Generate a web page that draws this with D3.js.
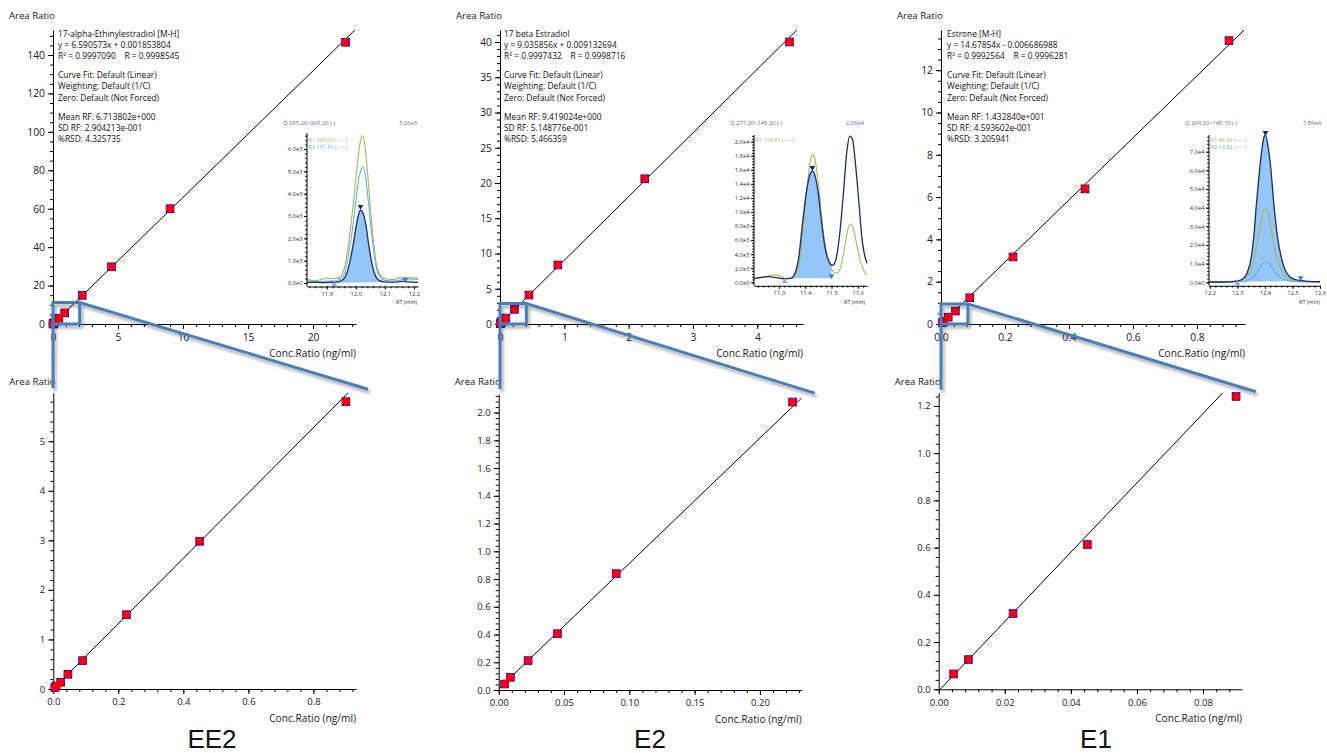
<!DOCTYPE html>
<html><head><meta charset="utf-8">
<script src="https://cdn.jsdelivr.net/npm/d3@7"></script>
<style>
html,body{margin:0;padding:0;background:#fff;}
svg{display:block;}
</style></head><body>
<svg id="chart" width="1327" height="753"></svg>
<script>
// ================= DATA =================
const compounds = ["EE2", "E2", "E1"];

// calibration points (Conc.Ratio ng/ml, Area Ratio)
const ee2Conc = [0.0045, 0.009, 0.0225, 0.045, 0.09, 0.225, 0.45, 0.9, 2.25, 4.5, 9, 22.5];
const ee2Area = [0.03, 0.06, 0.135, 0.297, 0.573, 1.50, 2.98, 5.80, 14.9, 29.8, 60.0, 146.6];
const ee2Fit = [6.590573, 0.001853804];

const e2Conc = [0.0045, 0.009, 0.0225, 0.045, 0.09, 0.225, 0.45, 0.9, 2.25, 4.5];
const e2Area = [0.043, 0.091, 0.212, 0.406, 0.839, 2.076, 4.11, 8.37, 20.6, 40.0];
const e2Fit = [9.035856, 0.009132694];

const e1Conc = [0.0045, 0.009, 0.0225, 0.045, 0.09, 0.225, 0.45, 0.9];
const e1Area = [0.065, 0.126, 0.321, 0.613, 1.24, 3.17, 6.39, 13.4];
const e1Fit = [14.67854, -0.006686988];

const ee2Info = ["17-alpha-Ethinylestradiol [M-H]", "y = 6.590573x + 0.001853804", "R\u00B2 = 0.9997090    R = 0.9998545",
  "Curve Fit: Default (Linear)", "Weighting: Default (1/C)", "Zero: Default (Not Forced)",
  "Mean RF: 6.713802e+000", "SD RF: 2.904213e-001", "%RSD: 4.325735"];
const e2Info = ["17 beta Estradiol", "y = 9.035856x + 0.009132694", "R\u00B2 = 0.9997432    R = 0.9998716",
  "Curve Fit: Default (Linear)", "Weighting: Default (1/C)", "Zero: Default (Not Forced)",
  "Mean RF: 9.419024e+000", "SD RF: 5.148776e-001", "%RSD: 5.466359"];
const e1Info = ["Estrone [M-H]", "y = 14.67854x - 0.006686988", "R\u00B2 = 0.9992564    R = 0.9996281",
  "Curve Fit: Default (Linear)", "Weighting: Default (1/C)", "Zero: Default (Not Forced)",
  "Mean RF: 1.432840e+001", "SD RF: 4.593602e-001", "%RSD: 3.205941"];

// chromatogram insets: [RT min, intensity]
const ee2Quant = [[11.832,30],[11.86,30],[11.88,20],[11.91,30],[11.94,50],[11.96,200],[11.975,700],[11.99,1650],[12.0,2450],[12.008,3000],[12.016,3260],[12.024,3150],[12.034,2650],[12.045,1650],[12.055,900],[12.065,400],[12.08,120],[12.1,50],[12.13,40],[12.16,70],[12.18,50],[12.214,30]];
const ee2R1 = [[11.832,150],[11.86,100],[11.88,150],[11.9,220],[11.92,200],[11.94,220],[11.955,450],[11.97,1300],[11.985,2800],[11.995,4000],[12.005,5300],[12.015,6300],[12.022,6600],[12.03,6300],[12.04,5000],[12.05,3400],[12.06,2000],[12.07,900],[12.085,350],[12.1,200],[12.13,150],[12.15,230],[12.17,250],[12.19,230],[12.214,220]];
const ee2R2 = [[11.832,100],[11.87,60],[11.9,80],[11.93,90],[11.955,250],[11.97,900],[11.985,2100],[11.995,3100],[12.005,4200],[12.015,4950],[12.025,5200],[12.032,4900],[12.042,3800],[12.052,2500],[12.062,1400],[12.072,600],[12.085,250],[12.1,120],[12.13,90],[12.16,150],[12.19,180],[12.214,160]];

const e2Quant = [[11.205,550],[11.23,700],[11.26,800],[11.29,650],[11.32,500],[11.345,550],[11.36,1200],[11.375,3500],[11.39,8500],[11.405,13000],[11.418,15300],[11.427,15800],[11.437,15200],[11.45,12500],[11.462,8500],[11.475,5000],[11.49,3000],[11.503,2400],[11.515,3000],[11.53,6500],[11.545,12500],[11.558,18500],[11.57,20800],[11.58,20300],[11.592,16500],[11.605,11000],[11.615,6500],[11.625,4000],[11.635,2700]];
const e2R1 = [[11.205,500],[11.24,700],[11.27,1000],[11.29,1050],[11.31,800],[11.33,550],[11.35,600],[11.365,1200],[11.38,3500],[11.395,9000],[11.41,14500],[11.42,17500],[11.428,18200],[11.437,17500],[11.45,14000],[11.462,9500],[11.475,5500],[11.49,2800],[11.505,1600],[11.52,1300],[11.535,2200],[11.55,5000],[11.562,7500],[11.572,8300],[11.582,7800],[11.595,5500],[11.61,3000],[11.625,1500],[11.635,1000]];

const e1Quant = [[12.197,200],[12.23,150],[12.26,250],[12.28,400],[12.30,700],[12.32,1800],[12.335,5000],[12.35,13000],[12.36,25000],[12.368,40000],[12.378,56000],[12.388,70000],[12.397,78000],[12.402,78900],[12.41,74000],[12.42,63000],[12.433,41000],[12.445,25000],[12.46,13000],[12.475,6000],[12.49,3000],[12.51,1500],[12.53,900],[12.56,500],[12.6,300]];
const e1R1 = [[12.197,100],[12.26,150],[12.3,400],[12.33,2500],[12.35,6500],[12.36,12500],[12.37,20000],[12.38,28000],[12.39,35000],[12.398,39500],[12.405,39000],[12.412,37500],[12.42,31000],[12.433,20000],[12.445,12500],[12.46,6500],[12.475,3000],[12.5,1200],[12.53,500],[12.6,300]];
const e1R2 = [[12.197,100],[12.3,150],[12.33,700],[12.35,2000],[12.365,4000],[12.38,7500],[12.392,10200],[12.402,11000],[12.412,10400],[12.425,8000],[12.44,5000],[12.455,2800],[12.47,1500],[12.5,500],[12.6,200]];

// peak markers: apex, start, end
const ee2Marks = [[12.016,3420],[11.926,-60],[12.17,150]];
const e2Marks = [[11.427,16300],[11.322,150],[11.5,900]];
const e1Marks = [[12.402,80200],[12.3,-550],[12.53,2400]];
// integration range: start RT, end RT, baseline at start, baseline at end
const ee2Integr = [11.926, 12.17, 0, 60];
const e2Integr = [11.322, 11.5, 570, 570];
const e1Integr = [12.3, 12.53, 300, 600];

const insetHeaders = ["Q 295.20>269.20 (-)", "Q 271.20>145.20 (-)", "Q 269.20>145.10 (-)"];
const insetMaxLabels = ["3.26e3", "2.08e4", "7.89e4"];
const insetLegends = [["R1 195.00 (-----)", "R2 151.91 (-----)"], ["R1 109.81 (-----)"], ["R1 46.20 (-----)", "R2 13.82 (-----)"]];

// zoom annotation: box corner (top chart units), diagonal end & drop (bottom chart units)
const zoomBox = [[2.05, 11.2], [0.41, 2.9], [0.084, 0.95]];
const zoomEnd = [[0.968, 6.05], [0.242, 2.14], [0.096, 1.26]];
const zoomDrop = [6.07, 2.17, 1.268];

// ================= LAYOUT =================
const FONT = '"Open Sans", sans-serif';
const calLayout = [
  { top: {xr:[53,356], yr:[324,30], xd:[0,23.3], yd:[0,153], xs:[5,1], ys:[20,5], xf:'d', yf:'d', fs:10.3, ly:15},
    bot: {xr:[53.3,356], yr:[689,392.7], xd:[0,0.931], yd:[0,5.98], xs:[0.2,0.04], ys:[1,0.2], xf:'.1f', yf:'d', fs:9.5, ly:381},
    infoX: 58, labelX: 212 },
  { top: {xr:[500,803], yr:[324,30], xd:[0,4.71], yd:[0,41.7], xs:[1,0.2], ys:[5,1], xf:'d', yf:'d', fs:10.3, ly:15},
    bot: {xr:[498.7,801.7], yr:[690,394], xd:[0,0.232], yd:[0,2.134], xs:[0.05,0.01], ys:[0.2,0.04], xf:'.2f', yf:'.1f', fs:9.5, ly:381},
    infoX: 504, labelX: 650 },
  { top: {xr:[941,1245], yr:[324,30], xd:[0,0.95], yd:[0,13.9], xs:[0.2,0.04], ys:[2,0.5], xf:'.1f', yf:'d', fs:10.3, ly:15},
    bot: {xr:[938.7,1242], yr:[689.3,392.7], xd:[0,0.0918], yd:[0,1.256], xs:[0.02,0.004], ys:[0.2,0.04], xf:'.2f', yf:'.1f', fs:9.5, ly:381},
    infoX: 947, labelX: 1096 }
];
const infoLineY = [33, 44, 55, 74, 85.5, 97, 116, 127, 138];
const insetLayout = [
  {xr:[307,418], yr:[283,133], xd:[11.832,12.214], yd:[0,6720], yMaj:1000, yMin:200, headX:283, valX:417, rtX:417},
  {xr:[754,867], yr:[282.3,135], xd:[11.205,11.635], yd:[0,20950], yMaj:2000, yMin:400, headX:730, valX:864, rtX:865},
  {xr:[1209,1320], yr:[282.3,135], xd:[12.197,12.6], yd:[0,78940], yMaj:10000, yMin:2000, headX:1185, valX:1321, rtX:1320}
];

const calData = [
  {conc: ee2Conc, area: ee2Area, fit: ee2Fit, info: ee2Info},
  {conc: e2Conc, area: e2Area, fit: e2Fit, info: e2Info},
  {conc: e1Conc, area: e1Area, fit: e1Fit, info: e1Info}
];
const insetData = [
  {quant: ee2Quant, r1: ee2R1, r2: ee2R2, marks: ee2Marks, integr: ee2Integr},
  {quant: e2Quant, r1: e2R1, r2: null, marks: e2Marks, integr: e2Integr},
  {quant: e1Quant, r1: e1R1, r2: e1R2, marks: e1Marks, integr: e1Integr}
];

// ================= DRAW =================
const svg = d3.select('#chart');
const defs = svg.append('defs');
defs.append('filter').attr('id','shadow').attr('x','-20%').attr('y','-20%').attr('width','150%').attr('height','160%')
  .append('feDropShadow').attr('dx',2).attr('dy',3).attr('stdDeviation',1.8)
  .attr('flood-color','#000').attr('flood-opacity',0.32);

function stepTicks(d0, d1, step) {
  const out = [];
  const start = Math.ceil(d0 / step - 1e-6);
  for (let i = start; i * step <= d1 + step * 1e-6; i++) out.push(+(i * step).toFixed(8));
  return out;
}

function drawCal(c, d, id) {
  const x = d3.scaleLinear().domain(c.xd).range(c.xr);
  const y = d3.scaleLinear().domain(c.yd).range(c.yr);
  const g = svg.append('g');

  const gxm = g.append('g').attr('transform', `translate(0,${c.yr[0]})`)
    .call(d3.axisBottom(x).tickValues(stepTicks(c.xd[0], c.xd[1], c.xs[1])).tickSize(3).tickFormat(() => '').tickSizeOuter(0));
  gxm.select('.domain').remove();
  const gym = g.append('g').attr('transform', `translate(${c.xr[0]},0)`)
    .call(d3.axisLeft(y).tickValues(stepTicks(c.yd[0], c.yd[1], c.ys[1])).tickSize(3).tickFormat(() => '').tickSizeOuter(0));
  gym.select('.domain').remove();

  const gx = g.append('g').attr('transform', `translate(0,${c.yr[0]})`)
    .call(d3.axisBottom(x).tickValues(stepTicks(c.xd[0], c.xd[1], c.xs[0])).tickSize(5).tickPadding(4.5)
      .tickFormat(d3.format(c.xf)).tickSizeOuter(0));
  const gy = g.append('g').attr('transform', `translate(${c.xr[0]},0)`)
    .call(d3.axisLeft(y).tickValues(stepTicks(c.yd[0], c.yd[1], c.ys[0])).tickSize(5).tickPadding(3)
      .tickFormat(d3.format(c.yf)).tickSizeOuter(0));
  [gx, gy].forEach(a => a.attr('font-family', FONT).attr('font-size', c.fs));
  g.selectAll('.tick text').attr('fill', '#222');

  g.append('text').attr('x', c.xr[0] - 44).attr('y', c.ly).attr('dominant-baseline', 'central')
    .attr('font-family', FONT).attr('font-size', 9.6).attr('fill', '#222').text('Area Ratio');
  g.append('text').attr('x', c.xr[1]).attr('y', c.yr[0] + 29).attr('dominant-baseline', 'central')
    .attr('text-anchor', 'end').attr('font-family', FONT).attr('font-size', 10.2).attr('fill', '#222')
    .text('Conc.Ratio (ng/ml)');

  defs.append('clipPath').attr('id', 'clip' + id).append('rect')
    .attr('x', c.xr[0]).attr('y', c.yr[1]).attr('width', c.xr[1] - c.xr[0]).attr('height', c.yr[0] - c.yr[1]);
  const fitPts = c.xd.map(v => [v, d.fit[0] * v + d.fit[1]]);
  g.append('path').datum(fitPts).attr('clip-path', `url(#clip${id})`)
    .attr('d', d3.line().x(p => x(p[0])).y(p => y(p[1])))
    .attr('stroke', '#000').attr('stroke-width', 1).attr('fill', 'none');

  const pts = d3.zip(d.conc, d.area).filter(p => p[0] <= c.xd[1] && p[1] <= c.yd[1] * 1.02);
  g.selectAll('rect.pt').data(pts).join('rect').attr('class', 'pt')
    .attr('x', p => x(p[0]) - 4.3).attr('y', p => y(p[1]) - 4.3).attr('width', 8.6).attr('height', 8.6)
    .attr('fill', '#0000ff');
  g.selectAll('circle.pt').data(pts).join('circle').attr('class', 'pt')
    .attr('cx', p => x(p[0])).attr('cy', p => y(p[1])).attr('r', 4.1).attr('fill', '#ff0000');
  return {x, y};
}

function interpAt(trace, t) {
  for (let i = 0; i < trace.length - 1; i++) {
    if (trace[i][0] <= t && t <= trace[i + 1][0]) {
      const f = (t - trace[i][0]) / (trace[i + 1][0] - trace[i][0]);
      return trace[i][1] + f * (trace[i + 1][1] - trace[i][1]);
    }
  }
  return trace[trace.length - 1][1];
}

function expFmt(v) {
  if (v === 0) return '0.0e0';
  const e = Math.floor(Math.log10(v) + 1e-9);
  return (v / Math.pow(10, e)).toFixed(1) + 'e' + e;
}

function drawInset(L, D, i) {
  const x = d3.scaleLinear().domain(L.xd).range(L.xr);
  const y = d3.scaleLinear().domain(L.yd).range(L.yr);
  const g = svg.append('g');
  const axisY = L.yr[0] + 3.5;
  const curve = d3.curveMonotoneX;

  const [s, e, b0, b1] = D.integr;
  const fillPts = [[s, interpAt(D.quant, s)]].concat(D.quant.filter(p => p[0] > s && p[0] < e), [[e, interpAt(D.quant, e)]]);
  g.append('path').datum(fillPts)
    .attr('d', d3.area().curve(curve).x(p => x(p[0])).y1(p => y(p[1]))
      .y0(p => y(b0 + (b1 - b0) * (p[0] - s) / (e - s))))
    .attr('fill', '#94c6f7').attr('stroke', 'none');

  const line = d3.line().curve(curve).x(p => x(p[0])).y(p => y(p[1]));
  if (D.r1) g.append('path').datum(D.r1).attr('d', line).attr('fill', 'none').attr('stroke', '#a9b656').attr('stroke-width', 1.1);
  if (D.r2) g.append('path').datum(D.r2).attr('d', line).attr('fill', 'none').attr('stroke', '#62aef0').attr('stroke-width', 1.1);
  g.append('path').datum(D.quant).attr('d', line).attr('fill', 'none').attr('stroke', '#1c2a6b').attr('stroke-width', 1.3);

  const fs = 5.8;
  const gxm = g.append('g').attr('transform', `translate(0,${axisY})`)
    .call(d3.axisBottom(x).tickValues(stepTicks(L.xd[0], L.xd[1], 0.02)).tickSize(1.8).tickFormat(() => '').tickSizeOuter(0));
  gxm.select('.domain').remove();
  const gx = g.append('g').attr('transform', `translate(0,${axisY})`)
    .call(d3.axisBottom(x).tickValues(stepTicks(L.xd[0], L.xd[1], 0.1)).tickSize(3).tickPadding(2)
      .tickFormat(d3.format('.1f')).tickSizeOuter(0));
  const gym = g.append('g').attr('transform', `translate(${L.xr[0]},0)`)
    .call(d3.axisLeft(y).tickValues(stepTicks(0, L.yd[1], L.yMin)).tickSize(1.8).tickFormat(() => '').tickSizeOuter(0));
  gym.select('.domain').remove();
  const gy = g.append('g').attr('transform', `translate(${L.xr[0]},0)`)
    .call(d3.axisLeft(y).tickValues(stepTicks(0, L.yd[1], L.yMaj)).tickSize(3).tickPadding(1.5)
      .tickFormat(expFmt).tickSizeOuter(0));
  gy.select('.domain').remove();
  g.append('line').attr('x1', L.xr[0]).attr('x2', L.xr[0]).attr('y1', L.yr[1]).attr('y2', axisY)
    .attr('stroke', '#000').attr('stroke-width', 1);
  [gx, gy].forEach(a => a.attr('font-family', FONT).attr('font-size', fs));
  g.selectAll('.tick text').attr('fill', '#333');

  const tri = d3.symbol().type(d3.symbolTriangle).size(14);
  const markCol = ['#1c2a6b', '#8aa6f2', '#4d6fe0'];
  const markRot = [180, 0, 180];
  g.selectAll('path.mk').data(D.marks).join('path').attr('class', 'mk')
    .attr('d', tri).attr('fill', (p, k) => markCol[k])
    .attr('transform', (p, k) => `translate(${x(p[0])},${y(p[1])}) rotate(${markRot[k]})`);

  g.append('text').attr('x', L.headX).attr('y', 123).attr('dominant-baseline', 'central')
    .attr('font-family', FONT).attr('font-size', 5.8).attr('fill', '#5a6a9e').text(insetHeaders[i]);
  g.append('text').attr('x', L.valX).attr('y', 123).attr('dominant-baseline', 'central').attr('text-anchor', 'end')
    .attr('font-family', FONT).attr('font-size', 5.8).attr('fill', '#5a6a9e').text(insetMaxLabels[i]);
  const legCol = ['#a9b656', '#62aef0'];
  insetLegends[i].forEach((t, k) => {
    g.append('text').attr('x', L.xr[0] + 1.5).attr('y', 140 + k * 7).attr('dominant-baseline', 'central')
      .attr('font-family', FONT).attr('font-size', 5.5).attr('fill', legCol[k]).text(t);
  });
  g.append('text').attr('x', L.rtX).attr('y', 302).attr('dominant-baseline', 'central').attr('text-anchor', 'end')
    .attr('font-family', FONT).attr('font-size', 5.5).attr('fill', '#333').text('RT (min)');
}

const scales = [];
calLayout.forEach((L, i) => {
  const top = drawCal(L.top, calData[i], 't' + i);
  const bot = drawCal(L.bot, calData[i], 'b' + i);
  scales.push({top, bot});
  const g = svg.append('g').attr('font-family', FONT).attr('font-size', 8.4).attr('fill', '#111');
  calData[i].info.forEach((t, k) => {
    g.append('text').attr('x', L.infoX).attr('y', infoLineY[k]).attr('dominant-baseline', 'central')
      .style('white-space', 'pre').text(t);
  });
  drawInset(insetLayout[i], insetData[i], i);
  svg.append('text').attr('x', L.labelX).attr('y', 748).attr('text-anchor', 'middle')
    .attr('font-family', '"Liberation Sans", Arial, sans-serif').attr('font-size', 26).attr('fill', '#111')
    .text(compounds[i]);
});

calLayout.forEach((L, i) => {
  const {top, bot} = scales[i];
  const g = svg.append('g').attr('filter', 'url(#shadow)').attr('stroke', '#4a7ebb').attr('stroke-width', 3)
    .attr('fill', 'none').attr('stroke-linejoin', 'miter');
  const bx = top.x(zoomBox[i][0]), by = top.y(zoomBox[i][1]);
  const ox = top.x(0), oy = top.y(0);
  g.append('path').attr('d', `M${bx},${by} L${ox},${by} L${ox},${bot.y(zoomDrop[i])} M${ox},${oy} L${bx},${oy} L${bx},${by} L${bot.x(zoomEnd[i][0])},${bot.y(zoomEnd[i][1])}`);
});
</script>
</body></html>
